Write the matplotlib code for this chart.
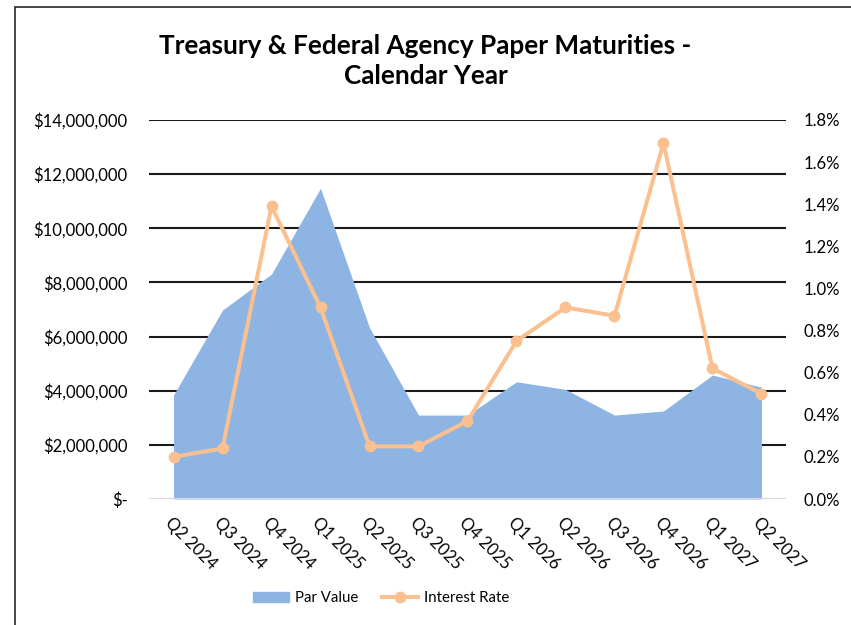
import matplotlib
matplotlib.use("Agg")
import matplotlib.pyplot as plt
from matplotlib.patches import Rectangle
from matplotlib.ticker import FuncFormatter, MultipleLocator
from matplotlib.lines import Line2D
from matplotlib.patches import Patch

plt.rcParams["font.family"] = ["Lato", "DejaVu Sans"]

quarters = ["Q2 2024", "Q3 2024", "Q4 2024", "Q1 2025", "Q2 2025", "Q3 2025",
            "Q4 2025", "Q1 2026", "Q2 2026", "Q3 2026", "Q4 2026", "Q1 2027",
            "Q2 2027"]
par_value = [3_840_000, 6_980_000, 8_310_000, 11_480_000, 6_330_000, 3_100_000,
             3_100_000, 4_330_000, 4_050_000, 3_100_000, 3_250_000, 4_580_000,
             4_130_000]
interest_rate = [0.20, 0.24, 1.39, 0.91, 0.25, 0.25, 0.37, 0.75, 0.91, 0.87,
                 1.69, 0.62, 0.50]

AREA = "#8EB4E3"
LINE = "#FAC090"

fig = plt.figure(figsize=(8.51, 6.25), dpi=100)
ax = fig.add_axes([0.1751, 0.2016, 0.7485, 0.6064])
ax2 = ax.twinx()

x = list(range(len(quarters)))
ax.fill_between(x, par_value, 0, color=AREA, linewidth=0, zorder=2)
ax.set_xlim(-0.5, len(quarters) - 0.5)
ax.set_ylim(0, 14_000_000)
ax.yaxis.set_major_locator(MultipleLocator(2_000_000))
ax.yaxis.set_major_formatter(
    FuncFormatter(lambda v, _: "$-" if v == 0 else f"${v:,.0f}"))
for v in range(2_000_000, 14_000_001, 2_000_000):
    ax.axhline(v, color="#1a1a1a", linewidth=1.5, zorder=1)
ax.axhline(0, color="#D9D9D9", linewidth=1.5, zorder=3)

ax2.plot(x, interest_rate, color=LINE, linewidth=2.9, marker="o",
         markersize=7.5, zorder=4)
ax2.set_ylim(0, 1.8)
ax2.yaxis.set_major_locator(MultipleLocator(0.2))
ax2.yaxis.set_major_formatter(FuncFormatter(lambda v, _: f"{v:.1f}%"))

for a in (ax, ax2):
    for s in a.spines.values():
        s.set_visible(False)
    a.tick_params(length=0, labelsize=12, colors="black")
ax.tick_params(axis="y", pad=15.5)
ax2.tick_params(axis="y", pad=12.5)

ax.set_xticks(x)
ax.set_xticklabels(quarters, rotation=-45, ha="left", va="top",
                   rotation_mode="anchor", fontsize=12)
ax.tick_params(axis="x", pad=11)

fig.text(0.5, 0.903, "Treasury & Federal Agency Paper Maturities -\nCalendar Year",
         ha="center", va="center", fontsize=18.8, fontweight="bold",
         linespacing=1.3)

handles = [Patch(color=AREA),
           Line2D([], [], color=LINE, linewidth=2.9, marker="o", markersize=7.5)]
fig.legend(handles, ["Par Value", "Interest Rate"], loc="center",
           bbox_to_anchor=(0.448, 0.043), ncol=2, frameon=False, fontsize=10.8,
           handlelength=2.4, columnspacing=1.6, handletextpad=0.4)

# chart border (clipped on the right and bottom)
fig.patches.append(Rectangle((15 / 851, -0.1), 1.2, 0.1 + 618 / 625,
                             transform=fig.transFigure, fill=False,
                             edgecolor="#262626", linewidth=1.2))

fig.savefig("out.png", dpi=100)
